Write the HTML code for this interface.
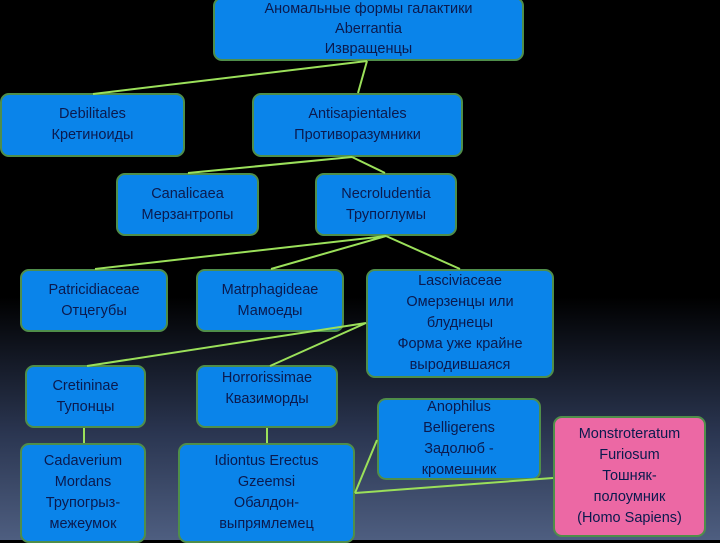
<!DOCTYPE html>
<html><head><meta charset="utf-8"><style>
body{margin:0;width:720px;height:540px;overflow:hidden;background:linear-gradient(to bottom,#000 0%,#000 55%,#2a3550 80%,#4e5e80 100%);font-family:"Liberation Sans","DejaVu Sans",sans-serif;position:relative}
.b{position:absolute;box-sizing:border-box;background:#0a84ea;border:2px solid #4f8e4a;border-radius:9px;color:#0b1a4e;font-size:14.5px;line-height:21px;text-align:center;display:flex;flex-direction:column;justify-content:center;align-items:center}
.p{background:#ec68a4;border-color:#4f8e4a}
svg{position:absolute;left:0;top:0}
</style></head><body>
<div class="b" style="left:213px;top:-3px;width:311px;height:64px;line-height:20px">Аномальные формы галактики<br>Aberrantia<br>Извращенцы</div>
<div class="b" style="left:0;top:93px;width:185px;height:64px">Debilitales<br>Кретиноиды</div>
<div class="b" style="left:252px;top:93px;width:211px;height:64px">Antisapientales<br>Противоразумники</div>
<div class="b" style="left:116px;top:173px;width:143px;height:63px">Canalicaea<br>Мерзантропы</div>
<div class="b" style="left:315px;top:173px;width:142px;height:63px">Necroludentia<br>Трупоглумы</div>
<div class="b" style="left:20px;top:269px;width:148px;height:63px">Patricidiaceae<br>Отцегубы</div>
<div class="b" style="left:196px;top:269px;width:148px;height:63px">Matrphagideae<br>Мамоеды</div>
<div class="b" style="left:366px;top:269px;width:188px;height:109px">Lasciviaceae<br>Омерзенцы или<br>блуднецы<br>Форма уже крайне<br>выродившаяся</div>
<div class="b" style="left:25px;top:365px;width:121px;height:63px">Cretininae<br>Тупонцы</div>
<div class="b" style="left:196px;top:365px;width:142px;height:63px;justify-content:flex-start;padding-top:1px">Horrorissimae<br>Квазиморды</div>
<div class="b" style="left:377px;top:398px;width:164px;height:82px">Anophilus<br>Belligerens<br>Задолюб -<br>кромешник</div>
<div class="b p" style="left:553px;top:416px;width:153px;height:121px">Monstroteratum<br>Furiosum<br>Тошняк-<br>полоумник<br>(Homo Sapiens)</div>
<div class="b" style="left:20px;top:443px;width:126px;height:100px">Cadaverium<br>Mordans<br>Трупогрыз-<br>межеумок</div>
<div class="b" style="left:178px;top:443px;width:177px;height:100px">Idiontus Erectus<br>Gzeemsi<br>Обалдон-<br>выпрямлемец</div>
<svg width="720" height="540" stroke="#9be05a" stroke-width="2" fill="none">
<path d="M367 61L93 94M367 61L358 93M352 157L188 173M352 157L385 173M386 236L95 269M386 236L271 269M386 236L460 269M366 323L87 366M366 323L270 366M84 428L84 443M267 428L267 443M355 493L377 440M355 493L553 478"/>
</svg>
</body></html>
